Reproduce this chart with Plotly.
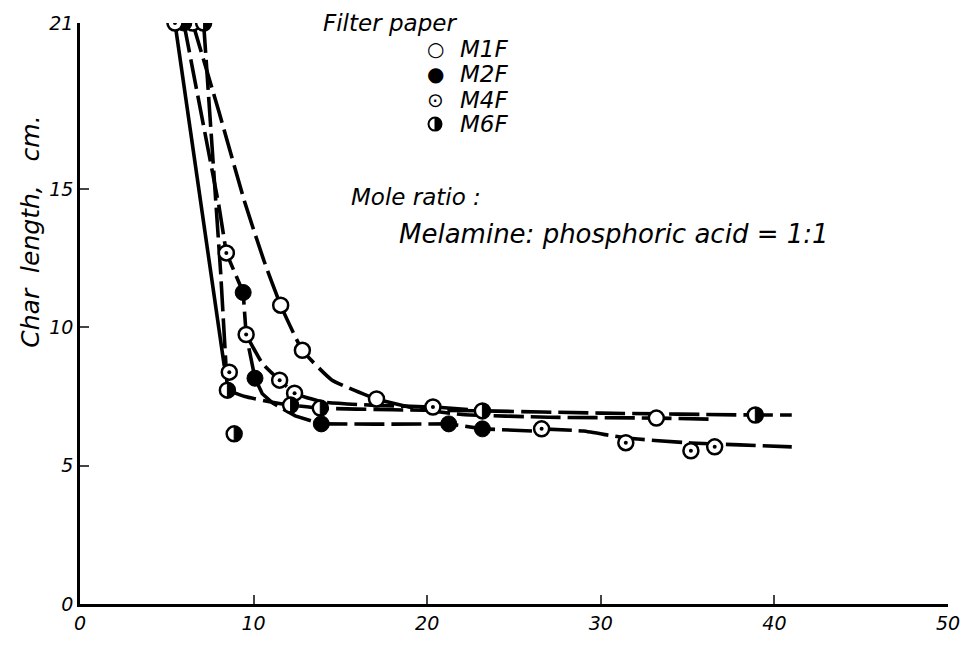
import plotly.graph_objects as go

m1f_x = [6.49, 11.56, 12.81, 17.08, 33.2]
m1f_y = [21.0, 10.8, 9.17, 7.41, 6.72]

m2f_x = [5.98, 9.40, 10.08, 13.9, 21.24, 23.18]
m2f_y = [21.0, 11.26, 8.16, 6.51, 6.51, 6.33]

m4f_x = [5.47, 8.43, 9.57, 8.60, 11.5, 12.36, 20.33, 26.59, 31.44, 35.19, 36.56]
m4f_y = [21.0, 12.69, 9.74, 8.38, 8.09, 7.62, 7.12, 6.33, 5.83, 5.54, 5.68]

m6f_x = [7.12, 8.49, 12.13, 13.84, 23.18, 38.9, 8.88]
m6f_y = [21.0, 7.73, 7.19, 7.08, 6.98, 6.83, 6.15]

# ---- hand-drawn curves ----
c_m1f_x = [6.49, 8.0, 9.5, 10.6, 11.56, 12.81, 14.5, 17.08, 19.5, 22, 27, 33.2, 36.4]
c_m1f_y = [21.0, 17.8, 14.5, 12.4, 10.8, 9.17, 8.1, 7.41, 7.05, 6.85, 6.75, 6.72, 6.68]

c_m2f_x = [5.98, 7.0, 8.0, 8.43, 9.40, 9.57, 10.08, 10.5, 11.1, 12.4, 13.9, 17, 21.24, 23.18, 26.2]
c_m2f_y = [21.0, 17.6, 14.4, 12.69, 11.26, 9.74, 8.16, 7.6, 7.26, 6.8, 6.51, 6.5, 6.51, 6.33, 6.25]

c_m4f_left_x = [5.47, 6.9, 8.31]
c_m4f_left_y = [21.0, 14.8, 8.6]

c_m4f_mid_x = [9.57, 10.5, 11.5, 12.36, 14, 17, 20.33, 23.0]
c_m4f_mid_y = [9.74, 8.7, 8.09, 7.62, 7.3, 7.18, 7.12, 7.0]

c_m4f_low_x = [26.59, 29.0, 31.44, 35.2, 38, 41]
c_m4f_low_y = [6.33, 6.25, 6.0, 5.82, 5.75, 5.68]

c_m6f_top_x = [7.12, 7.6, 8.1, 8.49]
c_m6f_top_y = [21.0, 16.5, 12.0, 7.73]

c_m6f_x = [8.49, 9.5, 11, 12.13, 13.84, 18, 23.18, 30, 38.9, 41]
c_m6f_y = [7.73, 7.5, 7.3, 7.19, 7.08, 7.02, 6.98, 6.9, 6.83, 6.83]

x_ticks = [0, 10, 20, 30, 40, 50]
y_ticks = [0, 5, 10, 15, 21]
y_ticktext = ["0", "5", "10", "15", "21"]

FONT = "DejaVu Sans"
LW = 3.6
DASH = "30px,7px"

fig = go.Figure()

def curve(x, y, dash=DASH, shape="spline"):
    fig.add_trace(go.Scatter(x=x, y=y, mode="lines", showlegend=False, hoverinfo="skip",
                             line=dict(color="black", width=LW, dash=dash, shape=shape, smoothing=0.4)))

curve(c_m1f_x, c_m1f_y)
curve(c_m2f_x, c_m2f_y, shape="linear")
curve(c_m4f_left_x, c_m4f_left_y, "solid", "linear")
curve(c_m4f_mid_x, c_m4f_mid_y)
curve(c_m4f_low_x, c_m4f_low_y)
curve(c_m6f_top_x, c_m6f_top_y, shape="linear")
curve(c_m6f_x, c_m6f_y)

# markers
fig.add_trace(go.Scatter(x=m1f_x, y=m1f_y, mode="markers", showlegend=False,
                         marker=dict(symbol="circle", size=15, color="white", line=dict(color="black", width=2.5))))
fig.add_trace(go.Scatter(x=m2f_x, y=m2f_y, mode="markers", showlegend=False,
                         marker=dict(symbol="circle", size=16, color="black", line=dict(color="black", width=1))))
fig.add_trace(go.Scatter(x=m4f_x, y=m4f_y, mode="markers", showlegend=False,
                         marker=dict(symbol="circle", size=15, color="white", line=dict(color="black", width=2.5))))
fig.add_trace(go.Scatter(x=m4f_x, y=m4f_y, mode="markers", showlegend=False,
                         marker=dict(symbol="circle", size=4, color="black", line=dict(width=0))))
fig.add_trace(go.Scatter(x=m6f_x, y=m6f_y, mode="markers", showlegend=False,
                         marker=dict(symbol="circle", size=15, color="white", line=dict(color="black", width=2.5))))

# right-half black fill for the M6F symbols (pixel-sized shapes anchored at the data points)
R = 7.0
K = 0.5523 * R
HALF = (f"M 0,{-R} C {K},{-R} {R},{-K} {R},0 C {R},{K} {K},{R} 0,{R} Z")
shapes = []
for xv, yv in zip(m6f_x, m6f_y):
    shapes.append(dict(type="path", xref="x", yref="y", xsizemode="pixel", ysizemode="pixel",
                       xanchor=xv, yanchor=yv, path=HALF, fillcolor="black",
                       line=dict(color="black", width=1), layer="above"))

fig.update_layout(
    width=972, height=655,
    margin=dict(l=80, r=14, t=20, b=51),
    paper_bgcolor="white", plot_bgcolor="white",
    showlegend=False,
    font=dict(family=FONT, color="black"),
    xaxis=dict(range=[0, 50], tickvals=x_ticks, ticks="inside", ticklen=9, tickwidth=2,
               showline=True, linewidth=2.5, linecolor="black", showgrid=False, zeroline=False,
               tickfont=dict(family=FONT, size=19, style="italic")),
    yaxis=dict(range=[0, 21], tickvals=y_ticks, ticktext=y_ticktext, ticks="inside", ticklen=9, tickwidth=2,
               showline=True, linewidth=2.5, linecolor="black", showgrid=False, zeroline=False,
               tickfont=dict(family=FONT, size=19, style="italic")),
)

ann = []
ann.append(dict(text="Char  length,   cm.", x=-0.057, y=0.64, xref="paper", yref="paper", textangle=-90,
                xanchor="center", yanchor="middle",
                showarrow=False, font=dict(family=FONT, size=25, style="italic")))
ann.append(dict(text="Filter paper", x=0.357, y=1.0, xref="paper", yref="paper", showarrow=False,
                xanchor="center", yanchor="middle", font=dict(family=FONT, size=23, style="italic")))
legend_items = [("\u25CB", "M1F"), ("\u25CF", "M2F"), ("\u2299", "M4F"), (None, "M6F")]
leg_y = [0.955, 0.912, 0.868, 0.826]
LEG_X = 0.409
for (sym, lab), yy in zip(legend_items, leg_y):
    if sym is not None:
        ann.append(dict(text=sym, x=LEG_X, y=yy, xref="paper", yref="paper", showarrow=False,
                        xanchor="center", yanchor="middle", font=dict(family=FONT, size=20)))
    ann.append(dict(text=lab, x=0.435, y=yy, xref="paper", yref="paper", showarrow=False,
                    xanchor="left", yanchor="middle", font=dict(family=FONT, size=23, style="italic")))
# M6F legend symbol: outlined circle with black right half
r = 6.5
k = 0.5523 * r
shapes.append(dict(type="circle", xref="paper", yref="paper", xsizemode="pixel", ysizemode="pixel",
                   xanchor=LEG_X, yanchor=leg_y[3], x0=-r, x1=r, y0=-r, y1=r,
                   fillcolor="white", line=dict(color="black", width=2), layer="above"))
shapes.append(dict(type="path", xref="paper", yref="paper", xsizemode="pixel", ysizemode="pixel",
                   xanchor=LEG_X, yanchor=leg_y[3],
                   path=f"M 0,{-r} C {k},{-r} {r},{-k} {r},0 C {r},{k} {k},{r} 0,{r} Z",
                   fillcolor="black", line=dict(color="black", width=1), layer="above"))

ann.append(dict(text="Mole ratio :", x=0.31, y=0.70, xref="paper", yref="paper", showarrow=False,
                xanchor="left", yanchor="middle", font=dict(family=FONT, size=23, style="italic")))
ann.append(dict(text="Melamine: phosphoric acid = 1:1", x=0.365, y=0.637, xref="paper", yref="paper",
                showarrow=False, xanchor="left", yanchor="middle",
                font=dict(family=FONT, size=26, style="italic")))
fig.update_layout(annotations=ann, shapes=shapes)

fig.write_html("out.html")
